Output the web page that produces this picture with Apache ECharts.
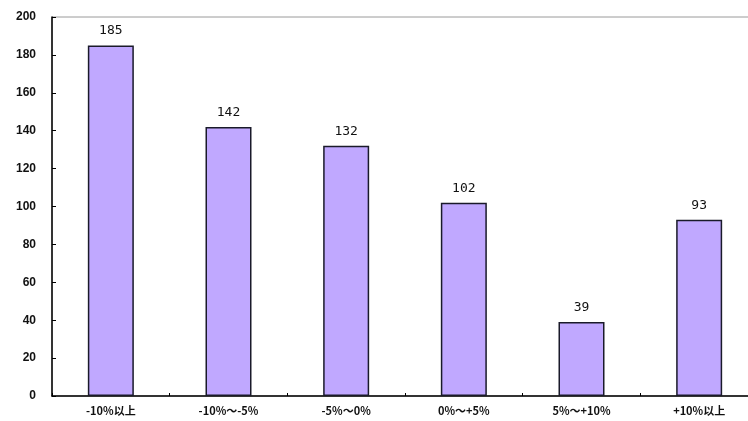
<!DOCTYPE html>
<html>
<head>
<meta charset="utf-8">
<script src="https://cdn.jsdelivr.net/npm/echarts@6/dist/echarts.min.js"></script>
<style>
  html, body { margin: 0; padding: 0; background: #fff; overflow: hidden; }
  /* plot runs past the right edge of the window */
  #chart { width: 762px; height: 421px; }
</style>
</head>
<body>
<div id="chart"></div>
<script>
// Return bands and number of items in each band
const categories = ['-10%以上', '-10%～-5%', '-5%～0%', '0%～+5%', '5%～+10%', '+10%以上'];
const counts = [185, 142, 132, 102, 39, 93];
const yTicks = { min: 0, max: 200, interval: 20 };

const chart = echarts.init(document.getElementById('chart'), null, { renderer: 'canvas' });
chart.setOption({
  animation: false,
  backgroundColor: '#ffffff',
  grid: {
    left: 52, right: 4, top: 17, bottom: 25,
    show: true, borderColor: '#9a9a9a', borderWidth: 1, backgroundColor: 'transparent'
  },
  xAxis: {
    type: 'category',
    data: categories,
    axisLine: { lineStyle: { color: '#000', width: 1.5 } },
    axisTick: { show: true, inside: true, length: 3, lineStyle: { color: '#000' } },
    axisLabel: {
      color: '#111', fontSize: 11, margin: 9,
      fontFamily: '"Noto Sans CJK SC", sans-serif', fontWeight: 'bold'
    }
  },
  yAxis: {
    type: 'value',
    min: yTicks.min, max: yTicks.max, interval: yTicks.interval,
    axisLine: { show: true, lineStyle: { color: '#000', width: 1.5 } },
    axisTick: { show: true, inside: true, length: 4, lineStyle: { color: '#000' } },
    splitLine: { show: false },
    axisLabel: {
      color: '#111', fontSize: 12, margin: 16,
      fontFamily: 'Arial, "Liberation Sans", sans-serif', fontWeight: 'bold'
    }
  },
  series: [{
    type: 'bar',
    data: counts,
    barWidth: 46,
    itemStyle: { color: '#c0a8ff', borderColor: '#1a1a2a', borderWidth: 1.5 },
    label: {
      show: true, position: 'top', distance: 8,
      color: '#111', fontSize: 13,
      fontFamily: '"DejaVu Sans Mono", monospace'
    }
  }]
});
</script>
</body>
</html>
